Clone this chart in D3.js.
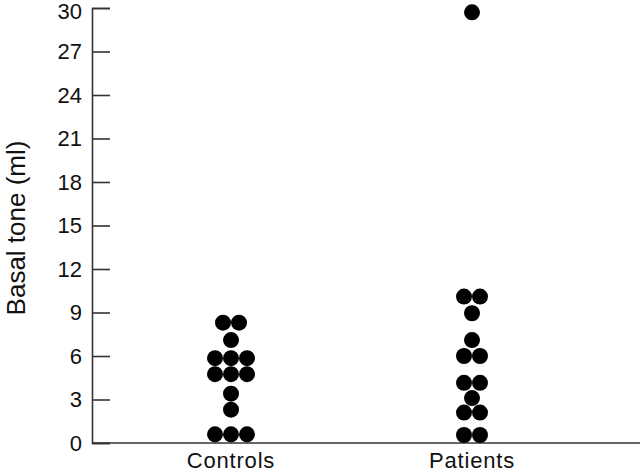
<!DOCTYPE html>
<html>
<head>
<meta charset="utf-8">
<script src="https://cdn.jsdelivr.net/npm/d3@7"></script>
<style>
  body { margin: 0; background: #fff; }
  text { font-family: "Liberation Sans", Arial, Helvetica, sans-serif; fill: #111; }
</style>
</head>
<body>
<div id="chart"></div>
<script>
// groups shown on the x axis
var categories = ["Controls", "Patients"];
// basal tone (ml)
var controls = [8.3, 8.3, 7.1, 5.85, 5.85, 5.85, 4.75, 4.75, 4.75, 3.4, 2.3, 0.6, 0.6, 0.6];
var patients = [29.7, 10.1, 10.1, 8.95, 7.1, 6.0, 6.0, 4.15, 4.15, 3.1, 2.1, 2.1, 0.55, 0.55];
var yTicks = [0, 3, 6, 9, 12, 15, 18, 21, 24, 27, 30];

var width = 640, height = 472;
var axisX = 92, axisY = 443, r = 8;

var svg = d3.select("#chart").append("svg")
  .attr("width", width)
  .attr("height", height);

var y = d3.scaleLinear().domain([0, 30]).range([axisY, 8]);
var x = d3.scalePoint().domain(categories).range([231, 472]);

// y axis: ticks point inwards, labels on the left
var yAxis = d3.axisRight(y).tickValues(yTicks).tickSize(18).tickFormat("");
var gy = svg.append("g").attr("transform", "translate(" + axisX + ",0)").call(yAxis);
gy.select(".domain").attr("stroke", "#333").attr("stroke-width", 1.6);
gy.selectAll(".tick line").attr("stroke", "#333").attr("stroke-width", 1.6);

svg.selectAll(".ylab")
  .data(yTicks)
  .enter().append("text")
  .attr("class", "ylab")
  .attr("x", 82)
  .attr("y", function(d) { return Math.max(y(d), 11); })
  .attr("dy", "0.36em")
  .attr("text-anchor", "end")
  .style("font-size", "22px")
  .text(function(d) { return d; });

// x axis line runs to the right edge
svg.append("line")
  .attr("x1", axisX).attr("x2", width)
  .attr("y1", axisY).attr("y2", axisY)
  .attr("stroke", "#333").attr("stroke-width", 1.6);

svg.selectAll(".xlab")
  .data(categories)
  .enter().append("text")
  .attr("class", "xlab")
  .attr("x", function(d) { return x(d); })
  .attr("y", 468)
  .attr("text-anchor", "middle")
  .style("font-size", "22px")
  .style("letter-spacing", "0.8px")
  .text(function(d) { return d; });

svg.append("text")
  .attr("transform", "translate(25,228) rotate(-90)")
  .attr("text-anchor", "middle")
  .style("font-size", "26px")
  .text("Basal tone (ml)");

// dots: equal values sit side by side in a row
function layout(cat, values) {
  var pts = [];
  d3.group(values, function(v) { return v; }).forEach(function(row, v) {
    row.forEach(function(d, i) {
      pts.push({ cat: cat, value: v, off: (i - (row.length - 1) / 2) * 2 * r });
    });
  });
  return pts;
}
var points = layout("Controls", controls).concat(layout("Patients", patients));

svg.selectAll(".dot")
  .data(points)
  .enter().append("circle")
  .attr("class", "dot")
  .attr("cx", function(d) { return x(d.cat) + d.off; })
  .attr("cy", function(d) { return y(d.value); })
  .attr("r", r)
  .attr("fill", "#000");
</script>
</body>
</html>
